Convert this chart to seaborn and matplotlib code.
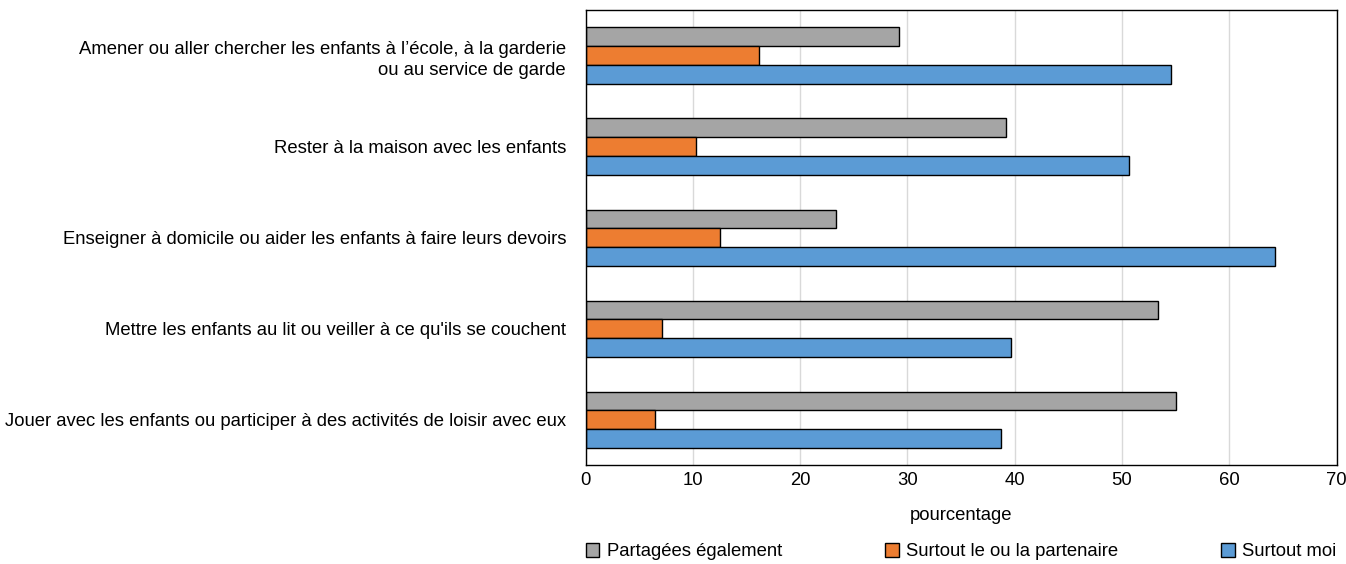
import matplotlib.pyplot as plt
import pandas as pd
import seaborn as sns

activities = [
    "Amener ou aller chercher les enfants à l’école, à la garderie\nou au service de garde",
    "Rester à la maison avec les enfants",
    "Enseigner à domicile ou aider les enfants à faire leurs devoirs",
    "Mettre les enfants au lit ou veiller à ce qu'ils se couchent",
    "Jouer avec les enfants ou participer à des activités de loisir avec eux",
]
series = ["Partagées également", "Surtout le ou la partenaire", "Surtout moi"]
partagees = [29.2, 39.2, 23.3, 53.4, 55.0]
partenaire = [16.2, 10.3, 12.5, 7.1, 6.5]
moi = [54.6, 50.7, 64.3, 39.7, 38.7]
colors = ["#A5A5A5", "#ED7D31", "#5B9BD5"]

df = pd.DataFrame({"activite": activities, series[0]: partagees,
                   series[1]: partenaire, series[2]: moi})
long_df = df.melt(id_vars="activite", var_name="repondant", value_name="pct")

sns.set_theme(style="white")
plt.rcParams["font.family"] = ["Liberation Sans", "DejaVu Sans"]
plt.rcParams["text.color"] = "black"

fig, ax = plt.subplots(figsize=(13.46, 5.64), dpi=100)
sns.barplot(data=long_df, y="activite", x="pct", hue="repondant",
            hue_order=series, order=activities, palette=colors, saturation=1,
            width=0.62, edgecolor="black", linewidth=1, ax=ax)

ax.set_xlim(0, 70)
ax.set_xticks(range(0, 71, 10))
ax.xaxis.grid(True, color="#D9D9D9", linewidth=1)
ax.set_axisbelow(True)
for s in ax.spines.values():
    s.set_color("black")
    s.set_linewidth(1)
ax.tick_params(axis="both", length=0, labelsize=13.3, colors="black")
ax.tick_params(axis="x", pad=5)
ax.tick_params(axis="y", pad=14)
for lbl in ax.get_yticklabels():
    lbl.set_linespacing(1.35)
ax.set_ylabel("")
ax.set_xlabel("pourcentage", fontsize=13.3, labelpad=13, color="black")

ax.legend(loc="center", bbox_to_anchor=(0, -0.24, 1, 0.1), mode="expand",
          ncol=3, frameon=False, fontsize=13.3, handlelength=0.75, handleheight=0.75,
          handletextpad=0.4, borderaxespad=0, borderpad=0)

fig.subplots_adjust(left=0.435, right=0.993, top=0.982, bottom=0.175)
fig.savefig("out.png", dpi=100)
